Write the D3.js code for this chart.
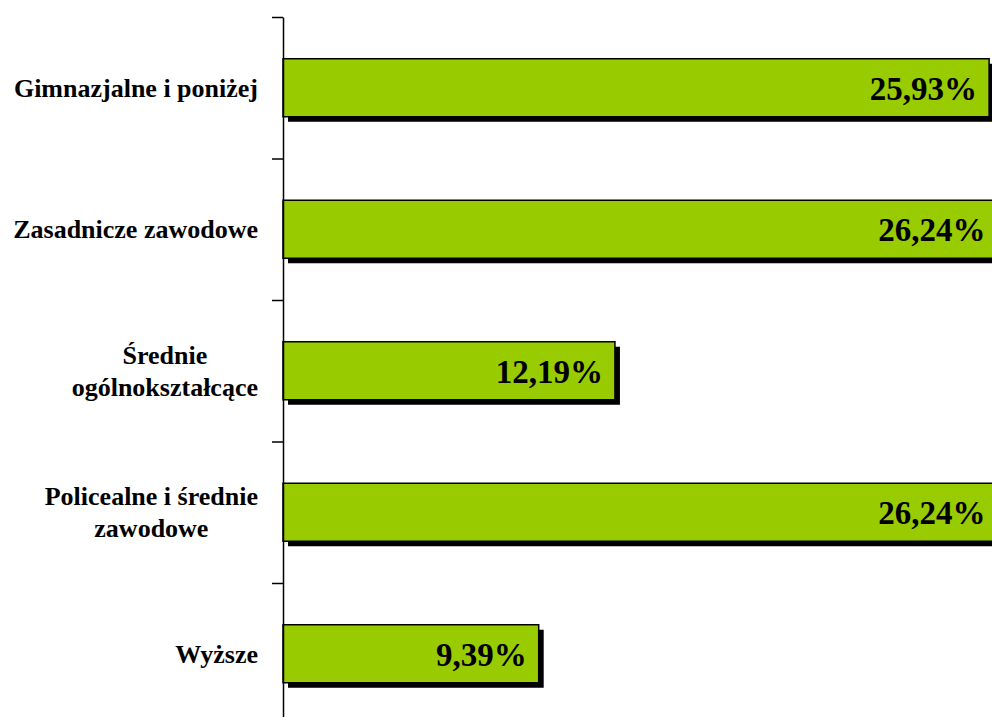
<!DOCTYPE html>
<html>
<head>
<meta charset="utf-8">
<script src="https://cdn.jsdelivr.net/npm/d3@7"></script>
<style>
  body { margin: 0; background: #fff; overflow: hidden; }
  svg { display: block; }
  .cat { font-family: "Liberation Serif", "Times New Roman", serif; font-weight: bold; font-size: 26px; fill: #000; }
  .val { font-family: "Liberation Serif", "Times New Roman", serif; font-weight: bold; font-size: 33px; fill: #000; }
</style>
</head>
<body>
<script>
// chart data
var categories = [
    ["Gimnazjalne i poniżej"],
    ["Zasadnicze zawodowe"],
    ["Średnie", "ogólnokształcące"],
    ["Policealne i średnie", "zawodowe"],
    ["Wyższe"]
];
var values = [25.93, 26.24, 12.19, 26.24, 9.39];
var valueLabels = ["25,93%", "26,24%", "12,19%", "26,24%", "9,39%"];

var width = 992,
    height = 717;

var axisX = 283,
    plotTop = 17,
    plotBottom = 724.5,
    shadow = 5;

var svg = d3.select("body").append("svg")
    .attr("width", width)
    .attr("height", height);

var ids = d3.range(values.length);

var y = d3.scaleBand()
    .domain(ids)
    .range([plotTop, plotBottom])
    .paddingInner(0.59)
    .paddingOuter(0.295);

var x = d3.scaleLinear()
    .domain([0, 26])
    .range([axisX, 991]);

// boundaries between categories for the ticks
var yEdge = d3.scaleLinear()
    .domain([0, values.length])
    .range([plotTop, plotBottom]);

// shadows
svg.selectAll("rect.shadow")
    .data(ids)
    .enter()
    .append("rect")
    .attr("class", "shadow")
    .attr("x", x(0) + shadow)
    .attr("y", function(d) { return y(d) + shadow; })
    .attr("width", function(d) { return x(values[d]) - x(0); })
    .attr("height", y.bandwidth())
    .style("fill", "#000");

// bars
svg.selectAll("rect.bar")
    .data(ids)
    .enter()
    .append("rect")
    .attr("class", "bar")
    .attr("x", x(0))
    .attr("y", function(d) { return y(d); })
    .attr("width", function(d) { return x(values[d]) - x(0); })
    .attr("height", y.bandwidth())
    .style("fill", "#99CC00")
    .style("stroke", "#000")
    .style("stroke-width", 1.5);

// value labels
svg.selectAll("text.val")
    .data(ids)
    .enter()
    .append("text")
    .attr("class", "val")
    .attr("x", function(d) { return x(values[d]) - 12; })
    .attr("y", function(d) { return y(d) + y.bandwidth() / 2 + 12; })
    .attr("text-anchor", "end")
    .text(function(d) { return valueLabels[d]; });

// axis
var axis = d3.axisLeft(yEdge)
    .tickValues(d3.range(values.length + 1))
    .tickFormat("")
    .tickSize(11)
    .tickSizeOuter(0);

var gAxis = svg.append("g")
    .attr("transform", "translate(" + axisX + ",0)")
    .call(axis);
gAxis.selectAll("path, line")
    .style("stroke", "#000")
    .style("stroke-width", 1.5);

// category labels, each block centred on itself, right edge at 258
var lineH = 32;
var labelRight = 258;
ids.forEach(function(d) {
    var lines = categories[d];
    var cy = y(d) + y.bandwidth() / 2;
    var g = svg.append("g");
    var texts = g.selectAll("text")
        .data(lines)
        .enter()
        .append("text")
        .attr("class", "cat")
        .attr("text-anchor", "middle")
        .attr("y", function(t, i) { return cy + 9 + (i - (lines.length - 1) / 2) * lineH; })
        .text(function(t) { return t; });
    var maxW = 0;
    texts.each(function() { maxW = Math.max(maxW, this.getComputedTextLength()); });
    texts.attr("x", labelRight - maxW / 2);
});
</script>
</body>
</html>
